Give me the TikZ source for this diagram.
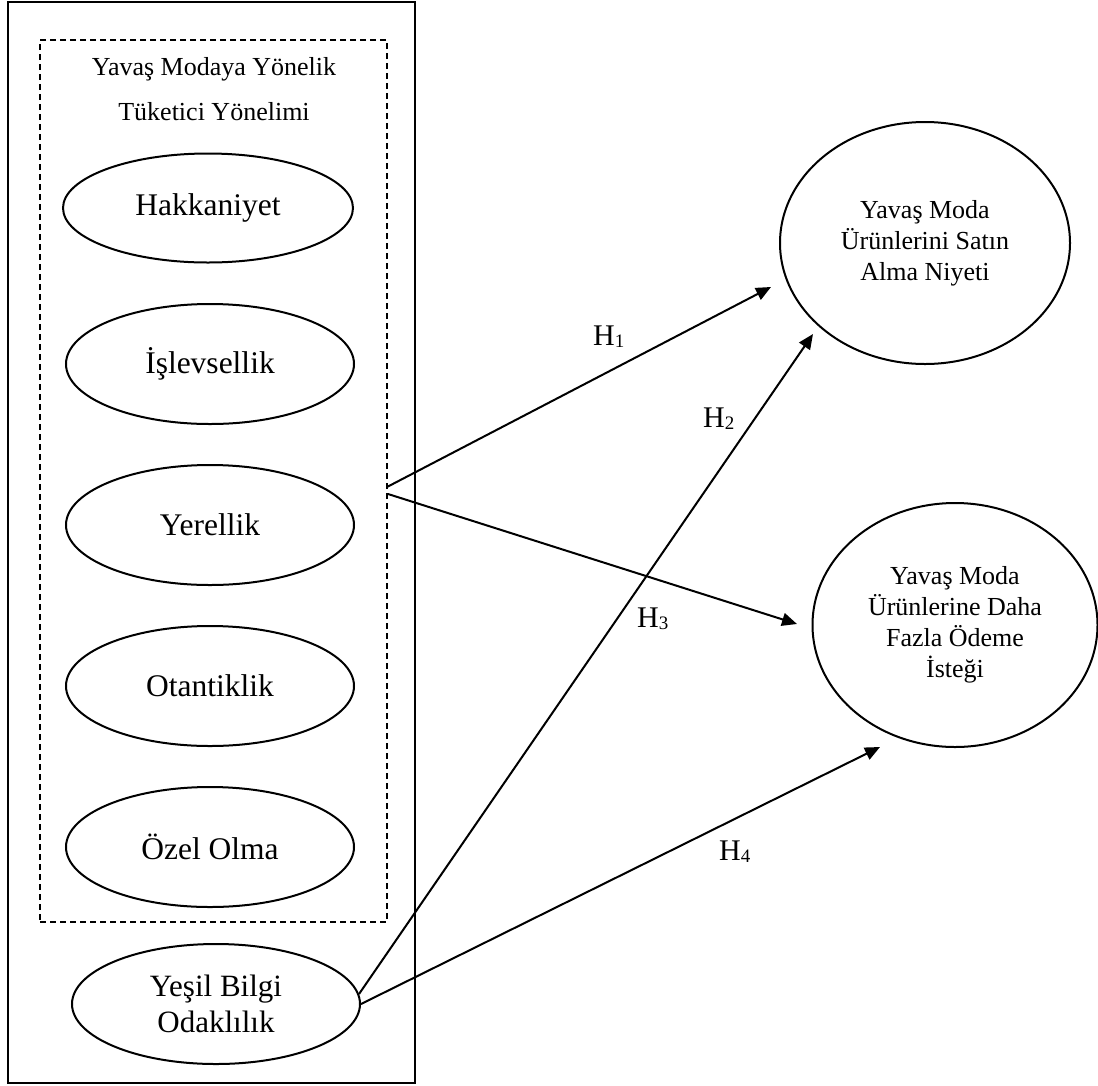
\documentclass[tikz,border=0pt]{standalone}
\usepackage{fontspec}
\setmainfont{Liberation Serif}
\usetikzlibrary{shapes.geometric,arrows.meta}
\begin{document}
\begin{tikzpicture}[x=1pt,y=-1pt,
  oval/.style={ellipse,draw,line width=2pt,inner sep=0pt,align=center},
  smalloval/.style={oval,minimum width=288pt,minimum height=120pt,font=\fontsize{31.5}{36}\selectfont},
  bigoval/.style={oval,minimum width=288pt,minimum height=243pt,font=\fontsize{26}{31}\selectfont},
  hdr/.style={anchor=base,inner sep=0pt,font=\fontsize{26}{30}\selectfont},
  hyp/.style={anchor=base west,inner sep=0pt,font=\fontsize{30}{30}\selectfont},
  conn/.style={line width=2pt,-{Triangle[length=15pt,width=13pt]}},
  frame/.style={draw,line width=1.2pt,inner sep=0pt},
  group/.style={draw,dashed,dash pattern=on 6pt off 4pt,line width=1.5pt,inner sep=0pt}
]
\useasboundingbox (0,0) rectangle (1098,1085);
\newcommand{\hsub}[1]{H\raisebox{-2pt}{\fontsize{19}{19}\selectfont #1}}

% frames
\node[frame,minimum width=407pt,minimum height=1081pt] (outer) at (211.5,542.5) {};
\node[group,minimum width=347pt,minimum height=882pt] (grp) at (213.5,481) {};

% header
\node[hdr] (hdrA) at (214,75) {Yavaş Modaya Yönelik};
\node[hdr] (hdrB) at (214,120) {Tüketici Yönelimi};

% left constructs
\node[smalloval,minimum width=290pt,minimum height=109pt] (hak) at (208,208) {Hakkaniyet};
\node[smalloval] (isl) at (210,364) {İşlevsellik};
\node[smalloval] (yer) at (210,525) {Yerellik};
\node[smalloval] (ota) at (210,686) {Otantiklik};
\node[smalloval] (oze) at (210,847) {Özel Olma};
\node[smalloval,font=\fontsize{31}{36}\selectfont] (yb) at (216,1004) {Yeşil Bilgi\\Odaklılık};

% right constructs
\node[bigoval,minimum width=290pt,minimum height=242pt] (sat) at (925,243) {Yavaş Moda\\Ürünlerini Satın\\Alma Niyeti};
\node[bigoval,minimum width=285pt,minimum height=244pt] (ode) at (955,625) {Yavaş Moda\\Ürünlerine Daha\\Fazla Ödeme\\İsteği};

% connector ends
\coordinate (s1) at (387,487);
\coordinate (s3) at (388,494);
\coordinate (t1) at (771,287);
\coordinate (t2) at (813,334);
\coordinate (t3) at (797,624);
\coordinate (t4) at (880,747);

\draw[conn] (s1) -- (t1);
\draw[conn] (s3) -- (t3);
\draw[conn] (yb.4) -- (t2);
\draw[conn] (yb.east) -- (t4);

% hypothesis labels
\node[hyp] (h1) at (593,345) {\hsub{1}};
\node[hyp] (h2) at (703,427) {\hsub{2}};
\node[hyp] (h3) at (637,627) {\hsub{3}};
\node[hyp] (h4) at (719,860) {\hsub{4}};
\end{tikzpicture}
\end{document}
